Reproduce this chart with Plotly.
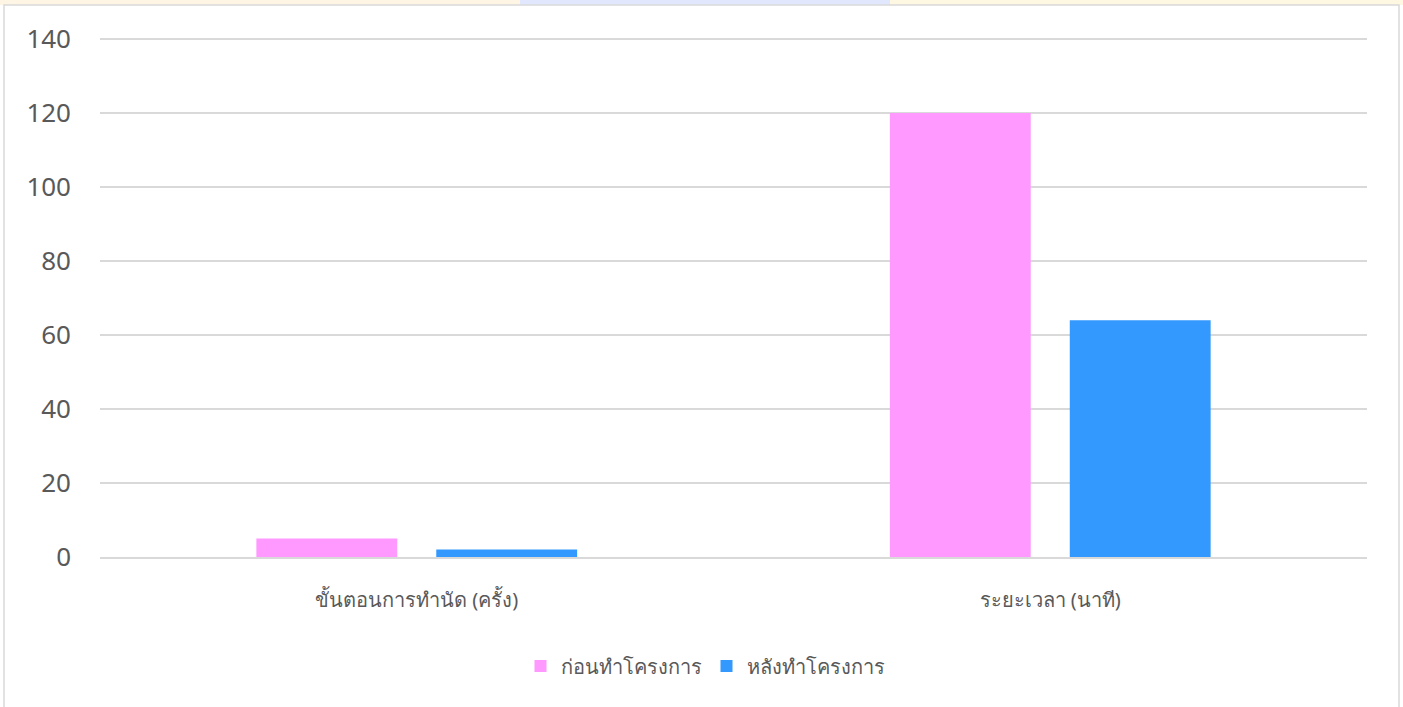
import plotly.graph_objects as go

categories = ["ขั้นตอนการทำนัด (ครั้ง)", "ระยะเวลา (นาที)"]
series_names = ["ก่อนทำโครงการ", "หลังทำโครงการ"]
before_values = [5, 120]
after_values = [2, 64]
y_ticks = [0, 20, 40, 60, 80, 100, 120, 140]

W, H = 1403, 707
L, R, T, B = 100, 36, 35, 150
pw, ph = W - L - R, H - T - B

def px(x):
    return (x - L) / pw

def py(y):
    return (H - B - y) / ph

fig = go.Figure()
fig.add_trace(go.Bar(x=categories, y=before_values, name=series_names[0],
                     marker=dict(color="#FF99FF", line=dict(width=0))))
fig.add_trace(go.Bar(x=categories, y=after_values, name=series_names[1],
                     marker=dict(color="#3399FF", line=dict(width=0))))

shapes = []
# faint decorative band at top
for x0, x1, c in [(0, 520, "rgba(250,215,150,0.25)"), (520, 890, "rgba(170,190,250,0.35)"),
                  (890, 1403, "rgba(250,225,140,0.25)")]:
    shapes.append(dict(type="rect", xref="paper", yref="paper", x0=px(x0), x1=px(x1),
                       y0=py(5), y1=py(0), line=dict(width=0), fillcolor=c, layer="below"))
# chart border
shapes.append(dict(type="rect", xref="paper", yref="paper", x0=px(4), x1=px(1399),
                   y0=py(712), y1=py(5), line=dict(color="#d9d9d9", width=1.5),
                   fillcolor="rgba(0,0,0,0)", layer="below"))

fig.update_layout(
    width=W, height=H,
    margin=dict(l=L, r=R, t=T, b=B),
    paper_bgcolor="white", plot_bgcolor="white",
    barmode="group", bargap=0.432, bargroupgap=0.217,
    font=dict(family="Noto Sans, Open Sans, sans-serif", color="#595959"),
    showlegend=True,
    legend=dict(orientation="h", x=px(705), xanchor="center", y=py(666), yanchor="middle",
                font=dict(size=20, color="#595959"), itemsizing="constant",
                traceorder="normal"),
    shapes=shapes,
)
fig.update_xaxes(showgrid=False, showline=True, linecolor="#d9d9d9", linewidth=1.5,
                 tickfont=dict(size=20, color="#595959"), ticks="", ticklabelstandoff=24,
                 fixedrange=True)
fig.update_yaxes(range=[0, 141.08], tickvals=y_ticks, showgrid=True, gridcolor="#d9d9d9",
                 gridwidth=1.5, zeroline=False, showline=False, ticks="",
                 tickfont=dict(size=26, color="#595959"), ticklabelstandoff=28,
                 fixedrange=True)

fig.write_html("out.html", config={"displayModeBar": False})
